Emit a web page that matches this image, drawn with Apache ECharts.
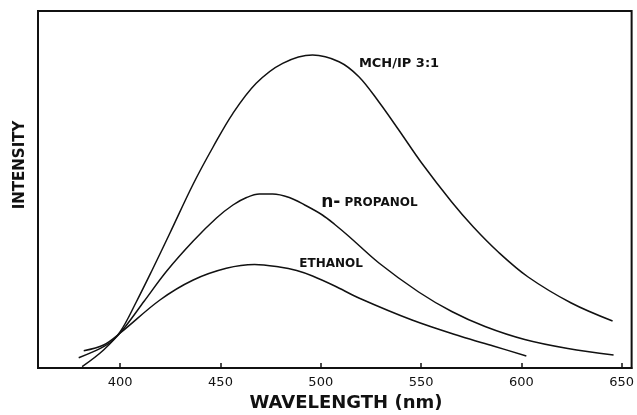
<!DOCTYPE html>
<html>
<head>
<meta charset="utf-8">
<script src="https://cdn.jsdelivr.net/npm/echarts@6/dist/echarts.min.js"></script>
<style>
  html, body { margin: 0; padding: 0; background: #fff; }
  #chart { width: 637px; height: 415px; }
</style>
</head>
<body>
<div id="chart"></div>
<script>
  // wavelength (nm) / intensity (arb. units)
  var mchWl = [381, 391.7, 400, 408, 415.7, 424.8, 436.4, 446.3, 456.2, 467.8, 481, 495.9, 509.1, 519, 529, 538.9, 550.4, 565.3, 576.1, 588.5, 603.4, 624.9, 645.5];
  var mchI = [1.3, 18, 36.3, 66, 97, 135, 184, 221, 254.7, 284.7, 304.7, 313, 306.3, 291.3, 266, 238, 204.7, 166, 141, 116, 91, 65, 47];

  var propWl = [379.3, 390.1, 396, 402, 412, 423.2, 436.4, 448, 456.2, 463, 469.4, 476, 484.3, 492, 500.8, 507, 514.1, 529, 548.8, 565.3, 581.9, 601.7, 623.2, 646];
  var propI = [10.3, 19.7, 27, 40, 67, 97, 127, 150, 163, 170.5, 174, 174, 170.5, 163, 153, 143.5, 131.5, 105, 76, 56.5, 41.5, 28.5, 19.5, 13];

  var ethWl = [381.8, 391.7, 400, 419.8, 436.4, 452.9, 467, 479.4, 488, 495.9, 507, 519, 545.5, 570, 586, 602.5];
  var ethI = [17.3, 23, 35, 68, 88, 99.7, 103.5, 101, 97.5, 92, 82, 70, 48, 31.5, 22, 12];

  var xTicks = [400, 450, 500, 550, 600, 650];

  function pairs(xs, ys) {
    var out = [];
    for (var i = 0; i < xs.length; i++) out.push([xs[i], ys[i]]);
    return out;
  }

  function curve(name, xs, ys, label, at) {
    return {
      name: name,
      type: 'line',
      smooth: 0.35,
      showSymbol: false,
      lineStyle: { color: '#111', width: 1.5 },
      data: pairs(xs, ys),
      markPoint: {
        symbol: 'circle',
        symbolSize: 0,
        silent: true,
        label: {
          show: true,
          position: 'right',
          distance: 0,
          formatter: label,
          color: '#111',
          fontFamily: 'DejaVu Sans',
          fontWeight: 'bold',
          fontSize: 12,
          rich: {
            big: { fontSize: 17, fontWeight: 'bold', fontFamily: 'DejaVu Sans', color: '#111' },
            sm: { fontSize: 12, fontWeight: 'bold', fontFamily: 'DejaVu Sans', color: '#111' },
            md: { fontSize: 13, fontWeight: 'bold', fontFamily: 'DejaVu Sans', color: '#111' }
          }
        },
        data: [{ coord: at }]
      }
    };
  }

  var chart = echarts.init(document.getElementById('chart'));
  chart.setOption({
    animation: false,
    backgroundColor: '#fff',
    grid: {
      left: 38, right: 2, top: 11, bottom: 47,
      show: true, borderColor: '#111', borderWidth: 2
    },
    xAxis: {
      type: 'value',
      min: 359,
      max: 655,
      axisLine: { show: true, lineStyle: { color: '#111', width: 2 } },
      axisTick: { show: true, inside: true, length: 5, customValues: xTicks, lineStyle: { color: '#111', width: 1.5 } },
      axisLabel: { customValues: xTicks, color: '#111', fontSize: 13, fontFamily: 'DejaVu Sans', margin: 8 },
      splitLine: { show: false }
    },
    yAxis: {
      type: 'value',
      min: 0,
      max: 357,
      axisLine: { show: true, lineStyle: { color: '#111', width: 2 } },
      axisTick: { show: false },
      axisLabel: { show: false },
      splitLine: { show: false }
    },
    graphic: [
      {
        type: 'text', x: 346, y: 403,
        style: { text: 'WAVELENGTH (nm)', fill: '#111', font: 'bold 18px "DejaVu Sans"', textAlign: 'center', textVerticalAlign: 'middle' }
      },
      {
        type: 'text', x: 20, y: 165, rotation: Math.PI / 2,
        style: { text: 'INTENSITY', fill: '#111', font: 'bold 15px "DejaVu Sans"', textAlign: 'center', textVerticalAlign: 'middle' }
      }
    ],
    series: [
      curve('MCH/IP 3:1', mchWl, mchI, '{md|MCH/IP 3:1}', [519, 304]),
      curve('n-PROPANOL', propWl, propI, '{big|n-} {sm|PROPANOL}', [500.2, 165]),
      curve('ETHANOL', ethWl, ethI, 'ETHANOL', [489.3, 104])
    ]
  });
</script>
</body>
</html>
